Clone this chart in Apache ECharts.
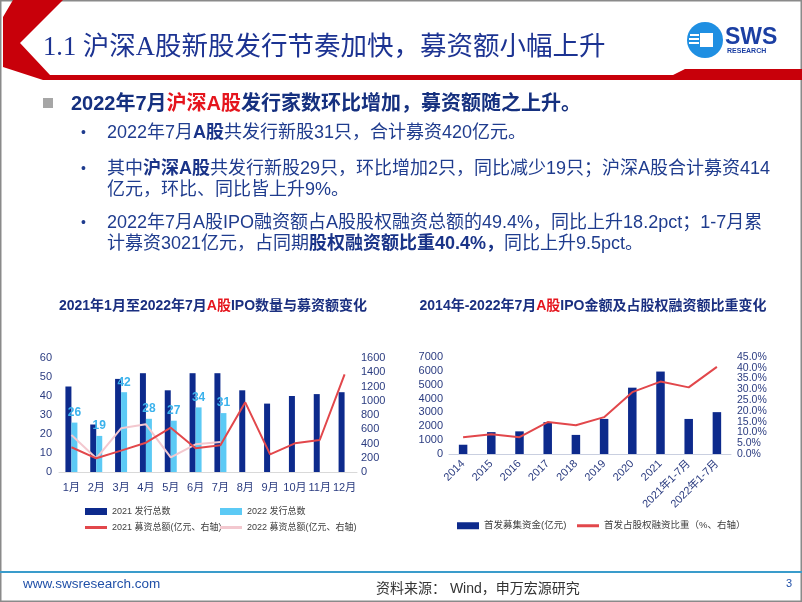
<!DOCTYPE html>
<html><head><meta charset="utf-8">
<script src="https://cdn.jsdelivr.net/npm/echarts@6/dist/echarts.min.js"></script>
<style>html,body{margin:0;padding:0;background:#fff}#c{width:802px;height:602px}</style>
</head><body><div id="c"></div>
<script>
// ---- Left chart data ----
const months = ['1月','2月','3月','4月','5月','6月','7月','8月','9月','10月','11月','12月'];
const issue2021 = [45, 25, 49, 52, 43, 52, 52, 43, 36, 40, 41, 42];
const issue2022 = [26, 19, 42, 28, 27, 34, 31];
const raise2021 = [347, 192, 300, 411, 622, 332, 374, 978, 248, 402, 449, 1371];
const raise2022 = [519, 192, 613, 669, 206, 388, 421];
const leftCountAxis = {min: 0, max: 60, interval: 10};
const leftRaiseAxis = {min: 0, max: 1600, interval: 200};
// ---- Right chart data ----
const years = ['2014','2015','2016','2017','2018','2019','2020','2021','2021年1-7月','2022年1-7月'];
const ipoAmount = [669, 1579, 1634, 2301, 1378, 2532, 4787, 5950, 2530, 3021];
const ipoShare = [7.8, 9.2, 7.8, 14.8, 13.3, 17.1, 28.7, 33.6, 30.9, 40.4];
const rightAmountAxis = {min: 0, max: 7000, interval: 1000};
const rightShareAxis = {min: 0, max: 45, interval: 5};
const shareLabelBlack = ['2021年1-7月','2022年1-7月'];

const NAVY = '#0d2a8c', LBLUE = '#5ccaf5', RED = '#e2474b', PINK = '#f3c8cf';
const AXC = '#2b3c80';
const FF = '"Liberation Sans","Noto Sans CJK SC",sans-serif';

const chart = echarts.init(document.getElementById('c'), null, {renderer: 'canvas'});

function txt(x, y, text, rich, opts) {
  return {
    type: 'text', x: x, y: y,
    style: Object.assign({text: text, rich: rich, verticalAlign: 'middle', fontFamily: FF}, opts || {})
  };
}
const bodyRich = {
  n: {fill: '#1f3c8e', fontSize: 18, fontFamily: FF},
  b: {fill: '#1a3488', fontSize: 18, fontWeight: 'bold', fontFamily: FF}
};

const graphics = [
  {type: 'rect', shape: {x: 0.5, y: 0.5, width: 801, height: 601}, style: {fill: 'none', stroke: '#8a8a8a', lineWidth: 2}},
  {type: 'polygon', shape: {points: [[13,0],[63,0],[20,43],[50,75],[673,75],[685,69],[802,69],[802,80],[43,80],[3,67],[3,17]]}, style: {fill: '#c8000a'}},
  txt(43, 48, '1.1 沪深A股新股发行节奏加快，募资额小幅上升', null, {fill: '#1c3392', fontSize: 26.5, fontFamily: '"Liberation Serif","Noto Sans CJK SC",serif'}),
  {type: 'circle', shape: {cx: 705, cy: 40, r: 18}, style: {fill: '#1f8fe2'}},
  {type: 'rect', shape: {x: 700, y: 33, width: 13, height: 14}, style: {fill: '#ffffff'}},
  {type: 'rect', shape: {x: 690, y: 34, width: 9, height: 2}, style: {fill: '#ffffff'}},
  {type: 'rect', shape: {x: 689, y: 38, width: 10, height: 2}, style: {fill: '#ffffff'}},
  {type: 'rect', shape: {x: 689, y: 42, width: 10, height: 2}, style: {fill: '#ffffff'}},
  txt(725, 38, 'SWS', null, {fill: '#1b3fa3', fontSize: 23, fontWeight: 'bold', fontFamily: '"Liberation Sans",sans-serif'}),
  txt(727, 51, 'RESEARCH', null, {fill: '#1b3fa3', fontSize: 7, fontWeight: 'bold', fontFamily: '"Liberation Sans",sans-serif'}),
  {type: 'rect', shape: {x: 43, y: 98, width: 10, height: 10}, style: {fill: '#a6a6a6'}},
  txt(71, 104, '{a|2022年7月}{r|沪深A股}{a|发行家数环比增加，募资额随之上升。}', {
    a: {fill: '#15307f', fontSize: 20, fontWeight: 'bold', fontFamily: FF},
    r: {fill: '#e5151d', fontSize: 20, fontWeight: 'bold', fontFamily: FF}
  }),
  txt(81, 133, '•', null, {fill: '#1f3c8e', fontSize: 14}),
  txt(107, 133, '{n|2022年7月}{b|A股}{n|共发行新股31只，合计募资420亿元。}', bodyRich),
  txt(81, 169, '•', null, {fill: '#1f3c8e', fontSize: 14}),
  txt(107, 169, '{n|其中}{b|沪深A股}{n|共发行新股29只，环比增加2只，同比减少19只；沪深A股合计募资414}', bodyRich),
  txt(107, 190, '{n|亿元，环比、同比皆上升9%。}', bodyRich),
  txt(81, 223, '•', null, {fill: '#1f3c8e', fontSize: 14}),
  txt(107, 223, '{n|2022年7月A股IPO融资额占A股股权融资总额的49.4%，同比上升18.2pct；1-7月累}', bodyRich),
  txt(107, 244, '{n|计募资3021亿元，占同期}{b|股权融资额比重40.4%，}{n|同比上升9.5pct。}', bodyRich),
  txt(213, 306, '{a|2021年1月至2022年7月}{r|A股}{a|IPO数量与募资额变化}', {
    a: {fill: '#1a2f80', fontSize: 14, fontWeight: 'bold', fontFamily: FF},
    r: {fill: '#e5151d', fontSize: 14, fontWeight: 'bold', fontFamily: FF}
  }, {align: 'center'}),
  txt(593, 306, '{a|2014年-2022年7月}{r|A股}{a|IPO金额及占股权融资额比重变化}', {
    a: {fill: '#1a2f80', fontSize: 14, fontWeight: 'bold', fontFamily: FF},
    r: {fill: '#e5151d', fontSize: 14, fontWeight: 'bold', fontFamily: FF}
  }, {align: 'center'}),
  {type: 'rect', shape: {x: 0, y: 571, width: 802, height: 2}, style: {fill: '#3a9ccb'}},
  txt(23, 584, 'www.swsresearch.com', null, {fill: '#2050a8', fontSize: 13.5}),
  txt(376, 589, '资料来源： Wind，申万宏源研究', null, {fill: '#333333', fontSize: 14}),
  txt(786, 584, '3', null, {fill: '#2050a8', fontSize: 11})
];

function legendItem(name, left, top, icon, fs) {
  return {
    data: [name], left: left, top: top, orient: 'horizontal',
    itemWidth: 22, itemHeight: icon === 'line' ? 3 : 7, itemGap: 4, icon: 'rect',
    textStyle: {fontSize: fs, color: '#404040', fontFamily: FF},
    selectedMode: false
  };
}

const numFmt = v => String(v);

const option = {
  animation: false,
  backgroundColor: '#ffffff',
  graphic: graphics,
  legend: [
    legendItem('2021 发行总数', 80, 502, 'bar', 9),
    legendItem('2022 发行总数', 215, 502, 'bar', 9),
    legendItem('2021 募资总额(亿元、右轴)', 80, 518, 'line', 9),
    legendItem('2022 募资总额(亿元、右轴)', 215, 518, 'line', 9),
    legendItem('首发募集资金(亿元)', 452, 516, 'bar', 9.5),
    legendItem('首发占股权融资比重（%、右轴）', 572, 516, 'line', 9.5)
  ],
  grid: [
    {left: 59, top: 358, width: 298, height: 114},
    {left: 449, top: 357, width: 282, height: 97}
  ],
  xAxis: [
    {type: 'category', gridIndex: 0, data: months,
      axisLine: {lineStyle: {color: '#d9d9d9'}}, axisTick: {show: false},
      axisLabel: {color: AXC, fontSize: 11, margin: 10, interval: 0, fontFamily: FF}},
    {type: 'category', gridIndex: 1, data: years,
      axisLine: {lineStyle: {color: '#c9cfe0'}}, axisTick: {show: false},
      axisLabel: {color: AXC, fontSize: 11, rotate: 45, margin: 8, interval: 0, fontFamily: FF}}
  ],
  yAxis: [
    Object.assign({type: 'value', gridIndex: 0, splitLine: {show: false}, axisLine: {show: false}, axisTick: {show: false},
      axisLabel: {color: AXC, fontSize: 11, margin: 7, fontFamily: FF, formatter: numFmt, showMinLabel: true, showMaxLabel: true}}, leftCountAxis),
    Object.assign({type: 'value', gridIndex: 0, position: 'right', splitLine: {show: false}, axisLine: {show: false}, axisTick: {show: false},
      axisLabel: {color: AXC, fontSize: 11, margin: 4, fontFamily: FF, formatter: numFmt, showMinLabel: true, showMaxLabel: true}}, leftRaiseAxis),
    Object.assign({type: 'value', gridIndex: 1, splitLine: {show: false}, axisLine: {show: false}, axisTick: {show: false},
      axisLabel: {color: AXC, fontSize: 11, margin: 6, fontFamily: FF, formatter: numFmt, showMinLabel: true, showMaxLabel: true}}, rightAmountAxis),
    Object.assign({type: 'value', gridIndex: 1, position: 'right', splitLine: {show: false}, axisLine: {show: false}, axisTick: {show: false},
      axisLabel: {color: AXC, fontSize: 10.5, lineHeight: 9, padding: 0, margin: 6, fontFamily: FF, formatter: v => v.toFixed(1) + '%', showMinLabel: true, showMaxLabel: true, hideOverlap: false}}, rightShareAxis)
  ],
  series: [
    {name: '2021 发行总数', type: 'bar', xAxisIndex: 0, yAxisIndex: 0, data: issue2021,
      barWidth: 6, barGap: '0%', itemStyle: {color: NAVY}},
    {name: '2022 发行总数', type: 'bar', xAxisIndex: 0, yAxisIndex: 0, data: issue2022,
      barWidth: 6, barGap: '0%', itemStyle: {color: LBLUE},
      label: {show: true, position: 'top', distance: 4, color: '#3bb2ec', fontSize: 12, fontWeight: 'bold', fontFamily: FF}},
    {name: '2021 募资总额(亿元、右轴)', type: 'line', xAxisIndex: 0, yAxisIndex: 1, data: raise2021,
      symbol: 'none', lineStyle: {color: RED, width: 2}, itemStyle: {color: RED}, z: 4},
    {name: '2022 募资总额(亿元、右轴)', type: 'line', xAxisIndex: 0, yAxisIndex: 1, data: raise2022,
      symbol: 'none', lineStyle: {color: PINK, width: 2}, itemStyle: {color: PINK}, z: 3},
    {name: '首发募集资金(亿元)', type: 'bar', xAxisIndex: 1, yAxisIndex: 2, data: ipoAmount,
      barWidth: 8.5, itemStyle: {color: NAVY}},
    {name: '首发占股权融资比重（%、右轴）', type: 'line', xAxisIndex: 1, yAxisIndex: 3,
      data: ipoShare.map((v, i) => ({value: v, label: {color: shareLabelBlack.includes(years[i]) ? '#1a1a1a' : '#e8262d'}})),
      symbol: 'none', lineStyle: {color: RED, width: 2}, itemStyle: {color: RED}, z: 4,
      label: {show: true, position: 'top', distance: 6, fontSize: 12, fontWeight: 'bold', fontFamily: FF,
        formatter: p => p.value.toFixed(1) + '%'}}
  ]
};
chart.setOption(option);
</script></body></html>
